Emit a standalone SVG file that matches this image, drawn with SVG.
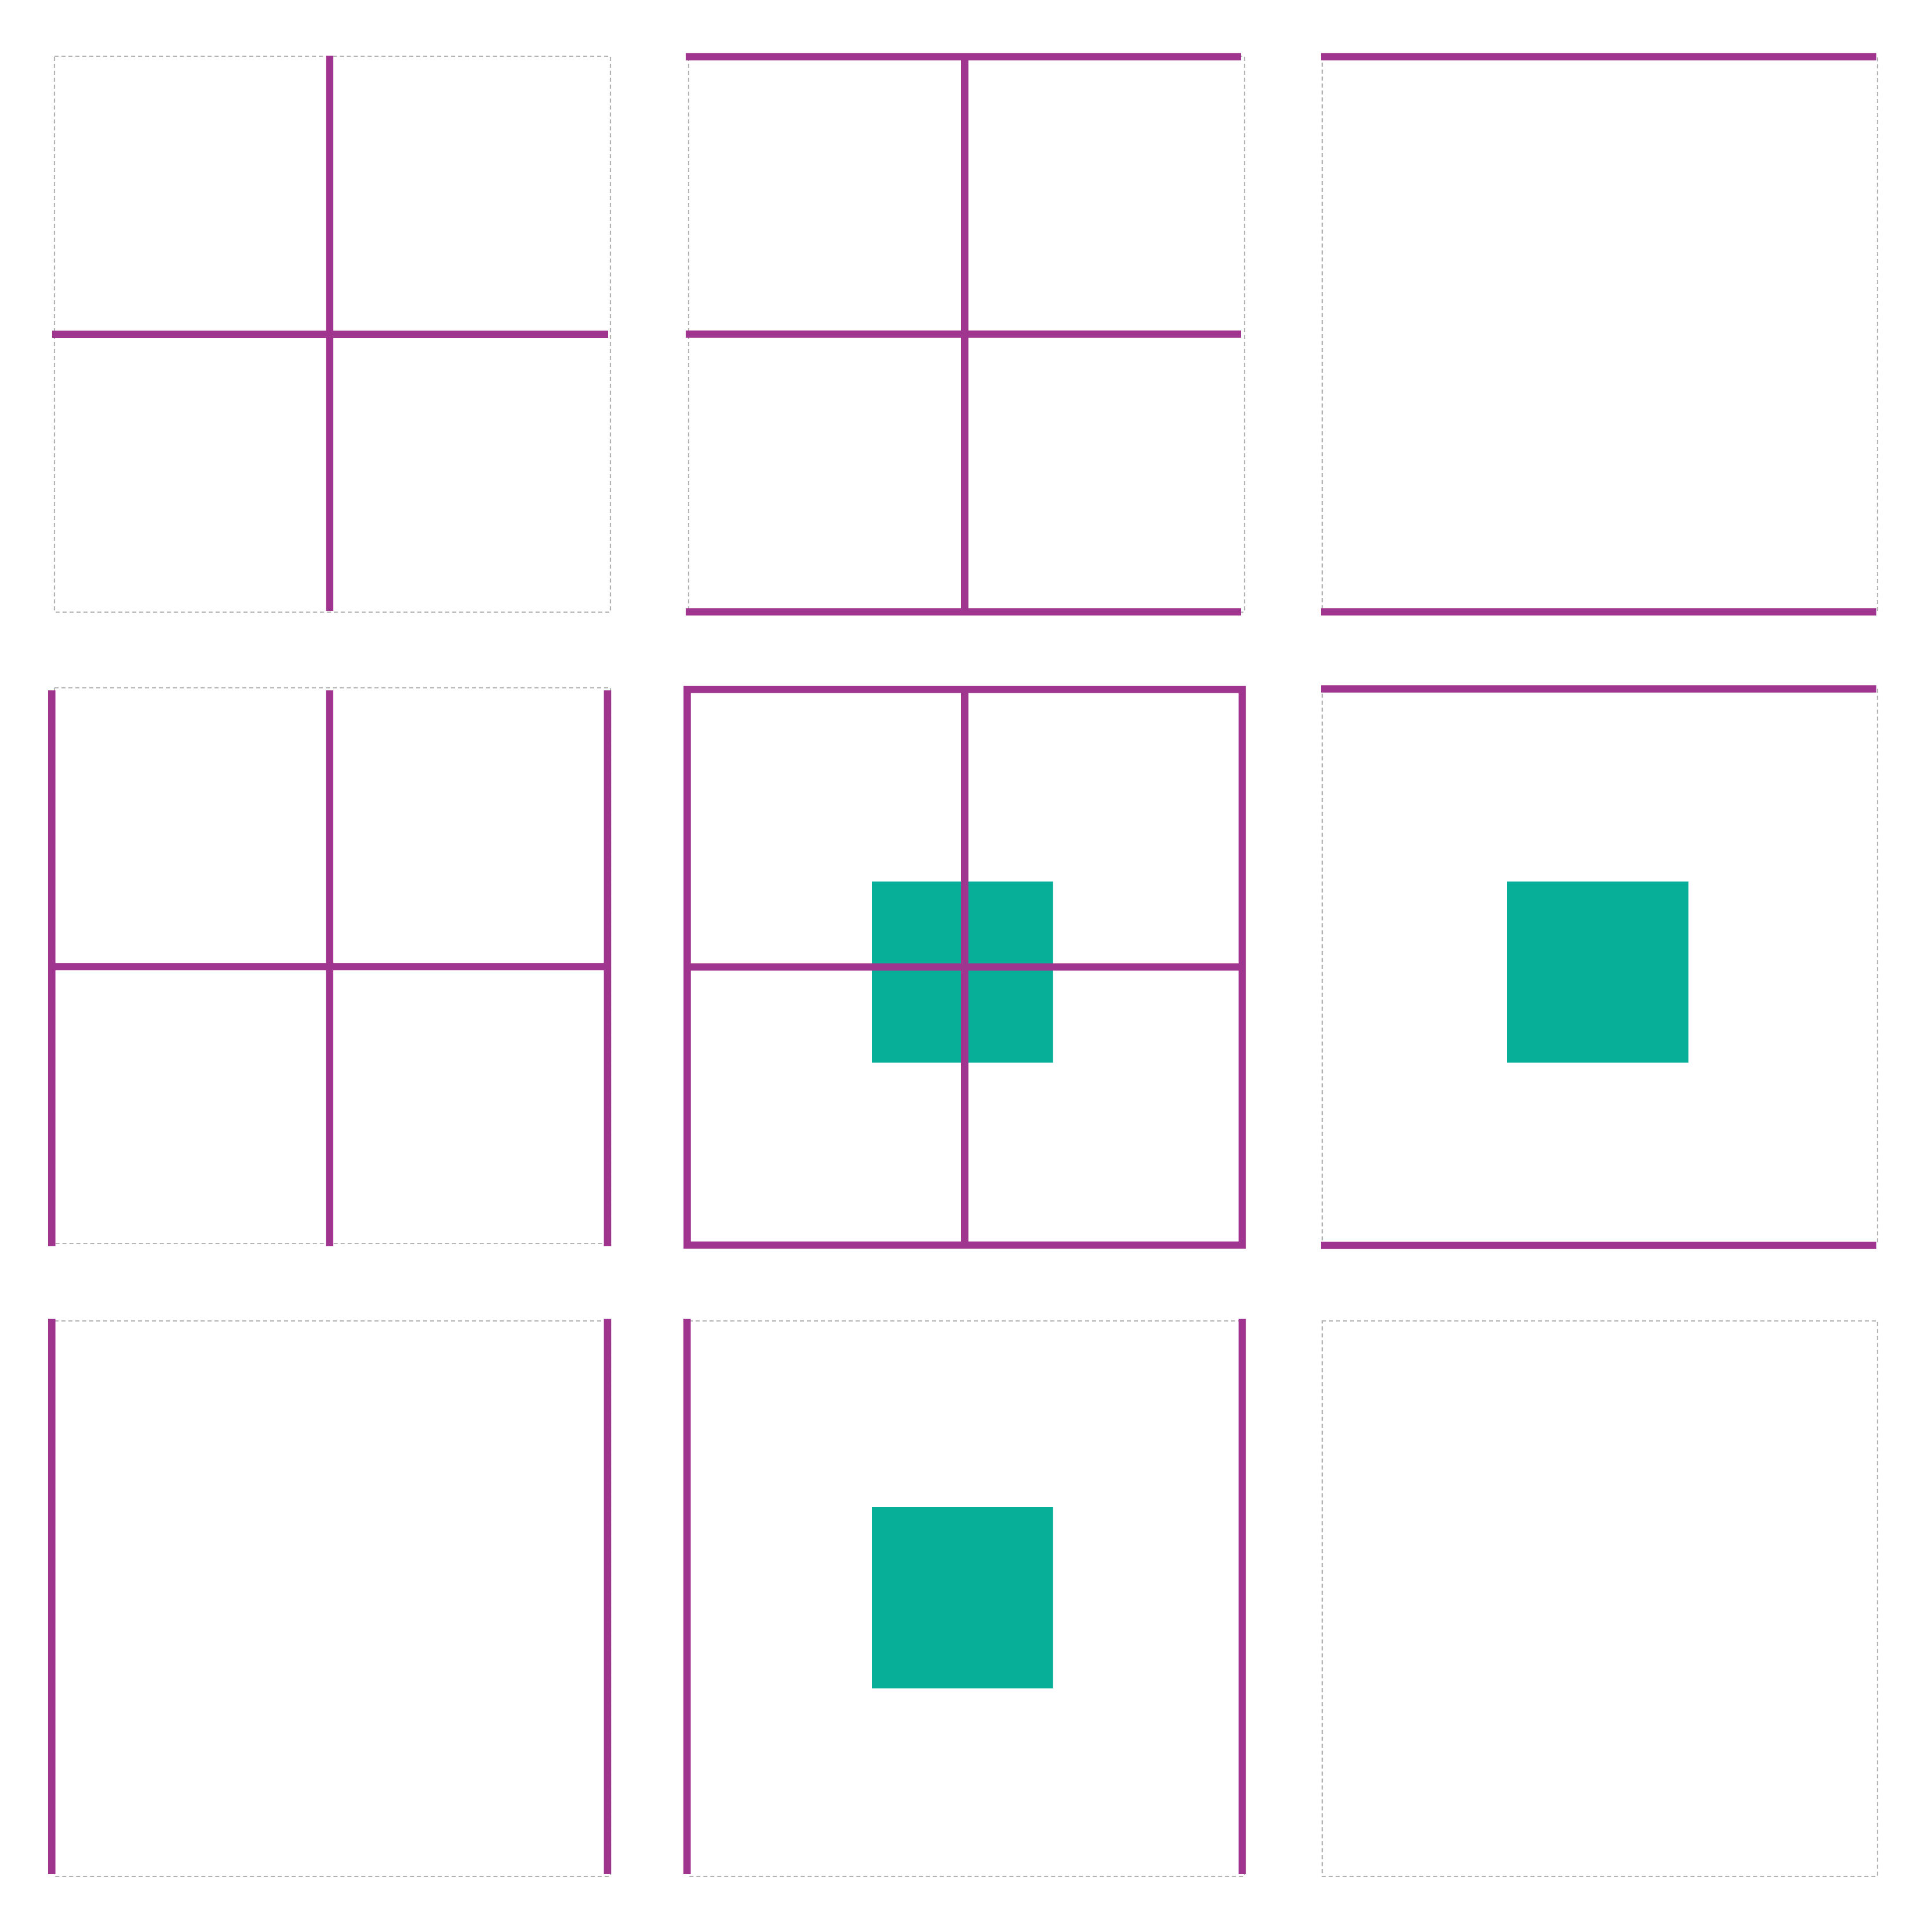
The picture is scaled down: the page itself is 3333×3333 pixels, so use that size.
<svg xmlns="http://www.w3.org/2000/svg" width="3333" height="3333" viewBox="0 0 3333 3333">
<style>
.frame{fill:none;stroke:#b3b3b3;stroke-width:2.2;stroke-dasharray:7 5}
.ln{fill:none;stroke:#a0358f;stroke-width:12.6;stroke-linecap:butt}
.sq{fill:#07af98}
</style>
<rect x="0" y="0" width="3333" height="3333" fill="#ffffff"/>
<g id="panel-1">
<rect class="frame" x="94" y="97" width="959" height="959"/>
<line class="ln" x1="568.7" y1="96" x2="568.7" y2="1054"/>
<line class="ln" x1="90" y1="576.7" x2="1049" y2="576.7"/>
</g>
<g id="panel-2">
<rect class="frame" x="1188" y="97" width="959" height="959"/>
<line class="ln" x1="1183" y1="97.9" x2="2141" y2="97.9"/>
<line class="ln" x1="1183" y1="576.5" x2="2141" y2="576.5"/>
<line class="ln" x1="1183" y1="1055.5" x2="2141" y2="1055.5"/>
<line class="ln" x1="1664.3" y1="97.9" x2="1664.3" y2="1055.5"/>
</g>
<g id="panel-3">
<rect class="frame" x="2281" y="97" width="958" height="959"/>
<line class="ln" x1="2279" y1="97.9" x2="3237" y2="97.9"/>
<line class="ln" x1="2279" y1="1055.5" x2="3237" y2="1055.5"/>
</g>
<g id="panel-4">
<rect class="frame" x="94" y="1186.3" width="959" height="958.7"/>
<line class="ln" x1="89.3" y1="1191" x2="89.3" y2="2150"/>
<line class="ln" x1="1048" y1="1191" x2="1048" y2="2150"/>
<line class="ln" x1="568.5" y1="1191" x2="568.5" y2="2150"/>
<line class="ln" x1="89.3" y1="1667.5" x2="1046" y2="1667.5"/>
</g>
<g id="panel-5">
<rect class="frame" x="1188" y="1186.3" width="959" height="958.7"/>
<rect class="sq" x="1504" y="1520.7" width="312.7" height="312.6"/>
<rect class="ln" x="1185.5" y="1189.3" width="957.5" height="958.7"/>
<line class="ln" x1="1664.3" y1="1189.3" x2="1664.3" y2="2148"/>
<line class="ln" x1="1185.5" y1="1668.3" x2="2143" y2="1668.3"/>
</g>
<g id="panel-6">
<rect class="frame" x="2281" y="1186.3" width="958" height="958.7"/>
<rect class="sq" x="2600" y="1520.7" width="312.7" height="312.6"/>
<line class="ln" x1="2279" y1="1188.5" x2="3237" y2="1188.5"/>
<line class="ln" x1="2279" y1="2148.5" x2="3237" y2="2148.5"/>
</g>
<g id="panel-7">
<rect class="frame" x="94" y="2278.7" width="959" height="958.3"/>
<line class="ln" x1="89.3" y1="2275" x2="89.3" y2="3233"/>
<line class="ln" x1="1048" y1="2275" x2="1048" y2="3233"/>
</g>
<g id="panel-8">
<rect class="frame" x="1188" y="2278.7" width="959" height="958.3"/>
<rect class="sq" x="1504" y="2600" width="312.7" height="312.6"/>
<line class="ln" x1="1185.3" y1="2275" x2="1185.3" y2="3233"/>
<line class="ln" x1="2143" y1="2275" x2="2143" y2="3233"/>
</g>
<g id="panel-9">
<rect class="frame" x="2281" y="2278.7" width="958" height="958.3"/>
</g>
<g id="connectors"></g>
</svg>
